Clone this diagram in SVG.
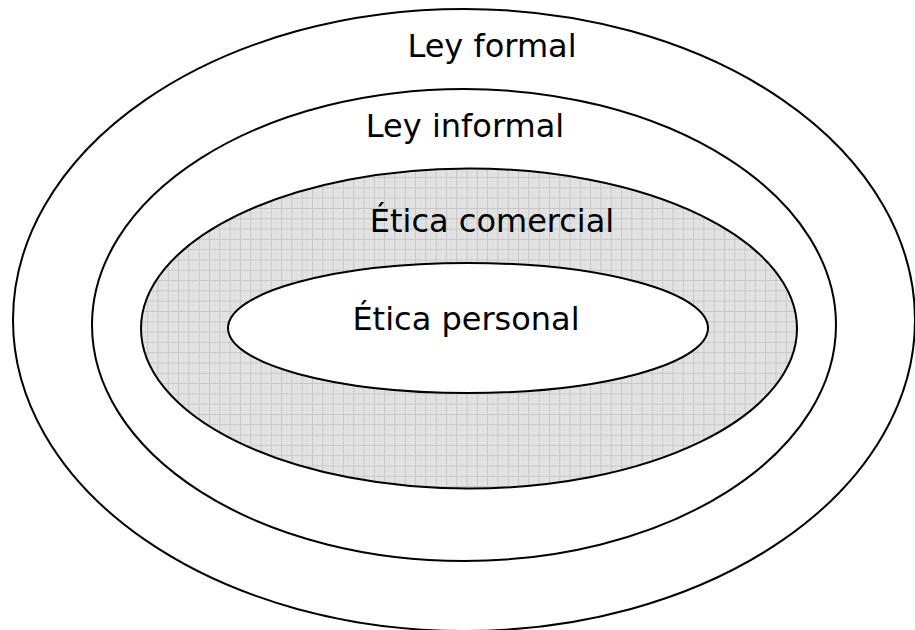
<svg xmlns="http://www.w3.org/2000/svg" width="915" height="630" viewBox="0 0 915 630">
  <style>
    .ring { stroke: #000; stroke-width: 2; }
    .label { font-family: "DejaVu Sans", Verdana, sans-serif; font-size: 32px; fill: #000; text-anchor: middle; }
  </style>
  <defs>
    <!-- light grey grid fill used for the business ethics ring -->
    <pattern id="grid" patternUnits="userSpaceOnUse" x="3" y="2" width="10.3" height="10.3">
      <rect width="10.3" height="10.3" fill="#e3e3e3"/>
      <path d="M5.15 0V10.3M0 5.15H10.3" stroke="#dfdfdf" stroke-width="1"/>
      <path d="M0.5 0V10.3M0 0.5H10.3" stroke="#c6c6c6" stroke-width="1"/>
    </pattern>
  </defs>

  <rect width="915" height="630" fill="#fff"/>

  <g id="ley-formal">
    <ellipse class="ring" cx="464" cy="320" rx="451" ry="311" fill="#fff"/>
    <text class="label" x="492" y="57">Ley formal</text>
  </g>

  <g id="ley-informal">
    <ellipse class="ring" cx="464" cy="325" rx="372" ry="236" fill="#fff"/>
    <text class="label" x="465" y="137">Ley informal</text>
  </g>

  <g id="etica-comercial">
    <ellipse class="ring" cx="469" cy="328.5" rx="328" ry="160" fill="url(#grid)"/>
    <text class="label" x="492" y="232">Ética comercial</text>
  </g>

  <g id="etica-personal">
    <ellipse class="ring" cx="468" cy="328" rx="240" ry="65" fill="#fff"/>
    <text class="label" x="466" y="330">Ética personal</text>
  </g>

  <g id="connectors"/>
</svg>
